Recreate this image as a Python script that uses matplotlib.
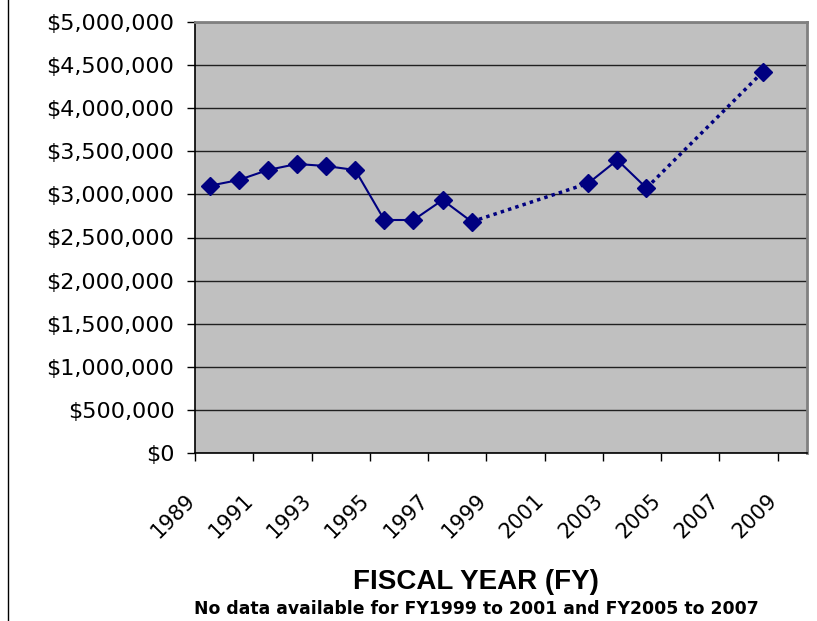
import matplotlib
matplotlib.use("Agg")
import matplotlib.pyplot as plt
from matplotlib.ticker import FuncFormatter, FixedLocator
from matplotlib.lines import Line2D
import matplotlib.transforms as mtransforms

# ---- data ----
categories = list(range(1989, 2010))
tick_labels = [str(y) for y in range(1989, 2010, 2)]
years = [1989, 1990, 1991, 1992, 1993, 1994, 1995, 1996, 1997, 1998,
         2002, 2003, 2004, 2008]
values = [3100000, 3167000, 3283000, 3353000, 3329000, 3283000, 2703000,
          2703000, 2935000, 2683000, 3129000, 3399000, 3074000, 4424000]
y_ticks = list(range(0, 5000001, 500000))
x_title = "FISCAL YEAR (FY)"
note = "No data available for FY1999 to 2001 and FY2005 to 2007"

W, H = 817, 621
fig = plt.figure(figsize=(W / 100, H / 100), dpi=100)
fig.patch.set_facecolor("white")

left, right, top, bottom = 195, 806.7, 22, 453
ax = fig.add_axes([left / W, 1 - bottom / H, (right - left) / W, (bottom - top) / H])
ax.set_facecolor("#C0C0C0")

xpos = [categories.index(y) for y in years]
navy = "#000080"

# segments: solid where consecutive, dotted across gaps
for i in range(len(years) - 1):
    seg_x = [xpos[i], xpos[i + 1]]
    seg_y = [values[i], values[i + 1]]
    if years[i + 1] - years[i] == 1:
        ax.plot(seg_x, seg_y, color=navy, lw=1.5, solid_capstyle="round", zorder=3)
    else:
        ax.plot(seg_x, seg_y, color=navy, lw=2.5, linestyle=(0, (1, 1.2)),
                dash_capstyle="butt", zorder=3)
ax.plot(xpos, values, linestyle="none", marker="D", markersize=9,
        color=navy, markeredgecolor=navy, zorder=4)

ax.set_xlim(-0.5, len(categories) - 0.5)
ax.set_ylim(0, 5000000)

ax.yaxis.set_major_locator(FixedLocator(y_ticks))
ax.yaxis.set_major_formatter(FuncFormatter(lambda v, p: "${:,.0f}".format(v)))
ax.yaxis.grid(True, color="#202020", lw=1.0)
ax.set_axisbelow(True)

# major ticks at category boundaries (every 2), labels on minor ticks at centers
ax.xaxis.set_major_locator(FixedLocator([i - 0.5 for i in range(0, len(categories) + 1, 2)]))
ax.xaxis.set_major_formatter(FuncFormatter(lambda v, p: ""))
ax.set_xticks(list(range(0, len(categories), 2)), minor=True)
ax.set_xticklabels(tick_labels, minor=True)

ax.tick_params(axis="y", which="major", length=5.8, width=1, color="black",
               direction="out", pad=9, labelsize=16, labelfontfamily="DejaVu Sans")
ax.tick_params(axis="x", which="major", length=5.8, width=1, color="black",
               direction="out")
ax.tick_params(axis="x", which="minor", length=0, pad=0, labelsize=15,
               labelfontfamily="DejaVu Sans")

offset = mtransforms.ScaledTranslation(-25 / 100, -37 / 100, fig.dpi_scale_trans)
for lab in ax.get_xticklabels(minor=True):
    lab.set_rotation(45)
    lab.set_rotation_mode("anchor")
    lab.set_ha("right")
    lab.set_va("top")
    lab.set_transform(lab.get_transform() + offset)

for s in ("left", "bottom"):
    ax.spines[s].set_color("black")
    ax.spines[s].set_linewidth(1.2)
for s in ("right", "top"):
    ax.spines[s].set_color("#808080")
    ax.spines[s].set_linewidth(2)

fig.text(476 / W, 1 - 582 / H, x_title, ha="center", va="center",
         fontsize=20, fontweight="bold", family="Liberation Sans")
fig.text(476 / W, 1 - 609.5 / H, note, ha="center", va="center",
         fontsize=12.4, fontweight="bold", family="DejaVu Sans")

fig.add_artist(Line2D([7.5 / W, 7.5 / W], [0, 1], color="black", lw=1,
                      transform=fig.transFigure))

fig.savefig("out.png", dpi=100)
